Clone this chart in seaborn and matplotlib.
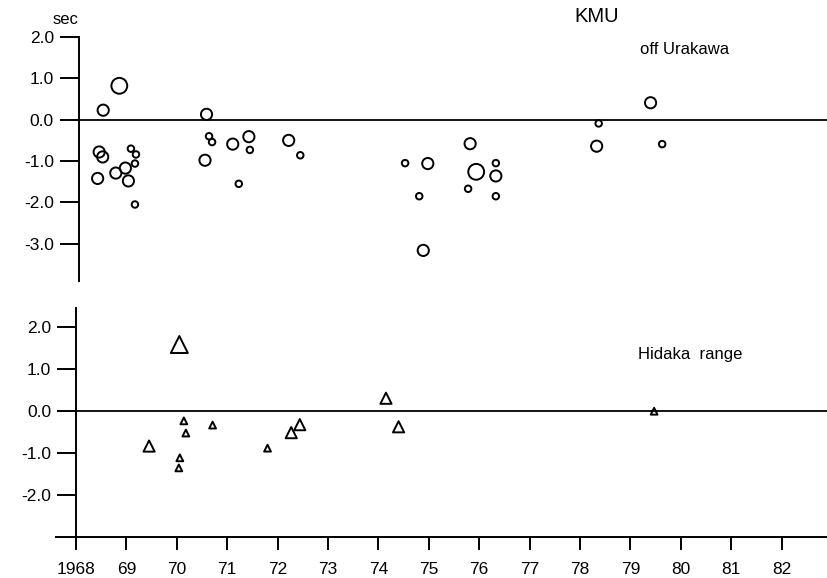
import numpy as np
import pandas as pd
import seaborn as sns
import matplotlib
matplotlib.use("Agg")
import matplotlib.pyplot as plt

# travel-time residuals at KMU
# off Urakawa: circles, size class 1 small, 2 medium, 3 large
ura_year = [1968.54, 1968.86, 1968.46, 1968.53, 1968.43, 1968.79, 1968.98, 1969.04,
            1969.09, 1969.19, 1969.17, 1969.17, 1970.59, 1970.64, 1970.70, 1970.56,
            1971.11, 1971.43, 1971.45, 1971.23, 1972.22, 1972.45, 1974.53, 1974.98,
            1974.81, 1974.89, 1975.82, 1975.94, 1975.78, 1976.33, 1976.33, 1976.33,
            1978.37, 1978.33, 1979.40, 1979.63]
ura_dt = [0.23, 0.82, -0.78, -0.90, -1.42, -1.29, -1.17, -1.48,
          -0.70, -0.84, -1.06, -2.05, 0.13, -0.40, -0.54, -0.98,
          -0.59, -0.41, -0.73, -1.55, -0.50, -0.86, -1.05, -1.06,
          -1.85, -3.16, -0.58, -1.26, -1.67, -1.05, -1.36, -1.85,
          -0.09, -0.64, 0.41, -0.59]
ura_mag = [2, 3, 2, 2, 2, 2, 2, 2,
           1, 1, 1, 1, 2, 1, 1, 2,
           2, 2, 1, 1, 2, 1, 1, 2,
           1, 2, 2, 3, 1, 1, 2, 1,
           1, 2, 2, 1]

# Hidaka range: triangles
hid_year = [1970.05, 1969.45, 1970.14, 1970.18, 1970.06, 1970.04, 1970.71, 1971.80,
            1972.27, 1972.44, 1974.15, 1974.40, 1979.47]
hid_dt = [1.58, -0.84, -0.24, -0.53, -1.12, -1.36, -0.34, -0.89,
          -0.52, -0.33, 0.30, -0.38, -0.01]
hid_mag = [3, 2, 1, 1, 1, 1, 1, 1, 2, 2, 2, 2, 1]

year_ticks = list(range(1968, 1983))
year_labels = ["1968"] + [str(y % 100) for y in year_ticks[1:]]
top_yticks = [2.0, 1.0, 0.0, -1.0, -2.0, -3.0]
bot_yticks = [2.0, 1.0, 0.0, -1.0, -2.0]

ura = pd.DataFrame({"year": ura_year, "dt": ura_dt, "mag": ura_mag})
hid = pd.DataFrame({"year": hid_year, "dt": hid_dt, "mag": hid_mag})

sns.set_style("ticks")
plt.rcParams['font.family'] = ['Liberation Sans', 'DejaVu Sans']
for k in ["text.color", "axes.edgecolor", "xtick.color", "ytick.color", "axes.labelcolor"]:
    plt.rcParams[k] = "black"

fig = plt.figure(figsize=(8.27, 5.78), dpi=100)
ax1 = fig.add_axes([79 / 827, 1 - 281 / 578, 1 - 79 / 827, (281 - 37) / 578])
ax2 = fig.add_axes([76 / 827, 1 - 536.7 / 578, 1 - 76 / 827, (536.7 - 308) / 578])

# top panel
sns.scatterplot(data=ura, x="year", y="dt", size="mag", sizes={1: 22, 2: 65, 3: 130},
                marker="o", facecolor="none", edgecolor="black", linewidth=1.4,
                legend=False, ax=ax1, clip_on=False, zorder=3)
ax1.axhline(0, color="black", lw=1.3)
ax1.set_xlim(1968.06, 1982.9)
ax1.set_ylim(-3.9, 2.0)
for s in ["top", "right", "bottom"]:
    ax1.spines[s].set_visible(False)
ax1.spines["left"].set_linewidth(1.4)
ax1.set_xticks([])
ax1.set_yticks(top_yticks)
ax1.set_yticklabels([f"{v:.1f}" for v in top_yticks], fontsize=12.5)
ax1.tick_params(axis="y", length=14, width=1.4, pad=4)
ax1.set_xlabel("")
ax1.set_ylabel("")
fig.text(66 / 827, 1 - 19 / 578, "sec", fontsize=12, ha="center", va="center")
fig.text(597 / 827, 1 - 17 / 578, "KMU", fontsize=14.5, ha="center", va="center")
fig.text(685 / 827, 1 - 50 / 578, "off Urakawa", fontsize=12, ha="center", va="center")

# bottom panel
sns.scatterplot(data=hid, x="year", y="dt", size="mag", sizes={1: 24, 2: 65, 3: 150},
                marker="^", facecolor="none", edgecolor="black", linewidth=1.4,
                legend=False, ax=ax2, clip_on=False, zorder=3)
ax2.axhline(0, color="black", lw=1.3)
ax2.set_xlim(1968, 1982.9)
ax2.set_ylim(-3.0, 2.45)
for s in ["top", "right"]:
    ax2.spines[s].set_visible(False)
ax2.spines["left"].set_linewidth(1.4)
ax2.spines["bottom"].set_linewidth(1.4)
ax2.spines["bottom"].set_bounds(1967.6, 1982.9)
ax2.set_yticks(bot_yticks)
ax2.set_yticklabels([f"{v:.1f}" for v in bot_yticks], fontsize=12.5)
ax2.tick_params(axis="y", length=14, width=1.4, pad=4)
ax2.set_xticks(year_ticks)
ax2.set_xticklabels(year_labels, fontsize=12.5)
ax2.tick_params(axis="x", length=9, width=1.4, pad=9)
ax2.set_xlabel("")
ax2.set_ylabel("")
fig.text(690 / 827, 1 - 355 / 578, "Hidaka  range", fontsize=12, ha="center", va="center")

fig.savefig("out.png", dpi=100)
